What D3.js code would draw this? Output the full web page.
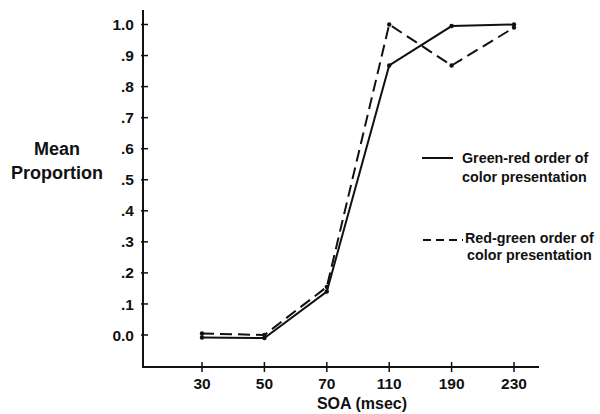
<!DOCTYPE html>
<html>
<head>
<meta charset="utf-8">
<script src="https://cdn.jsdelivr.net/npm/d3@7"></script>
<style>
body { margin: 0; background: #fff; }
text { font-family: "Liberation Sans", Arial, sans-serif; font-weight: bold; fill: #111; }
</style>
</head>
<body>
<div class="chart"></div>
<script>
(function() {
var width = 600, height = 414;

// data
var soa = ["30", "50", "70", "110", "190", "230"];
var greenRed = [-0.008, -0.01, 0.14, 0.868, 0.995, 1.0];
var redGreen = [0.005, 0.0, 0.155, 1.0, 0.868, 0.99];
var yTicks = [0, 0.1, 0.2, 0.3, 0.4, 0.5, 0.6, 0.7, 0.8, 0.9, 1.0];

var svg = d3.select(".chart").append("svg")
  .attr("width", width).attr("height", height);

var x = d3.scalePoint().domain(soa).range([202, 514]);
var y = d3.scaleLinear().domain([0, 1]).range([335, 24.5]);

var axisX = 143, axisY = 367;

// axes
svg.append("line")
  .attr("x1", axisX).attr("y1", 10).attr("x2", axisX).attr("y2", axisY)
  .style("stroke", "#111").style("stroke-width", 2);
svg.append("line")
  .attr("x1", axisX - 1).attr("y1", axisY).attr("x2", 539).attr("y2", axisY)
  .style("stroke", "#111").style("stroke-width", 2);

// y ticks
var yt = svg.selectAll(".yt").data(yTicks).enter().append("g")
  .attr("transform", function(d) { return "translate(0," + y(d) + ")"; });
yt.append("line")
  .attr("x1", axisX - 2).attr("x2", axisX + 5)
  .style("stroke", "#111").style("stroke-width", 1.5);
yt.append("text")
  .attr("x", 134).attr("dy", "0.36em")
  .attr("text-anchor", "end")
  .style("font-size", "15.5px")
  .text(function(d) {
    if (d === 0) return "0.0";
    if (d === 1) return "1.0";
    return d3.format(".1f")(d).replace(/^0/, "");
  });

// x ticks
var xt = svg.selectAll(".xt").data(soa).enter().append("g")
  .attr("transform", function(d) { return "translate(" + x(d) + ",0)"; });
xt.append("line")
  .attr("y1", axisY - 5).attr("y2", axisY + 5)
  .style("stroke", "#111").style("stroke-width", 1.5);
xt.append("text")
  .attr("y", 389).attr("text-anchor", "middle")
  .style("font-size", "15.5px")
  .text(function(d) { return d; });

// axis titles
svg.append("text").attr("x", 362).attr("y", 409)
  .attr("text-anchor", "middle").style("font-size", "16px")
  .text("SOA (msec)");
var yl = svg.append("text").attr("text-anchor", "middle").style("font-size", "18px");
yl.append("tspan").attr("x", 57).attr("y", 155).text("Mean");
yl.append("tspan").attr("x", 57).attr("y", 179).text("Proportion");

// lines
var line = d3.line()
  .x(function(d, i) { return x(soa[i]); })
  .y(function(d) { return y(d); });

svg.append("path").datum(redGreen)
  .attr("d", line)
  .style("fill", "none").style("stroke", "#111")
  .style("stroke-width", 2).style("stroke-dasharray", "12,6");
svg.append("path").datum(greenRed)
  .attr("d", line)
  .style("fill", "none").style("stroke", "#111")
  .style("stroke-width", 2);

[greenRed, redGreen].forEach(function(s) {
  svg.selectAll(null).data(s).enter().append("circle")
    .attr("cx", function(d, i) { return x(soa[i]); })
    .attr("cy", function(d) { return y(d); })
    .attr("r", 2.2)
    .style("fill", "#111");
});

// legend
svg.append("line")
  .attr("x1", 422).attr("x2", 453).attr("y1", 158).attr("y2", 158)
  .style("stroke", "#111").style("stroke-width", 2);
var l1 = svg.append("text").style("font-size", "14.3px");
l1.append("tspan").attr("x", 462).attr("y", 163).text("Green-red order of");
l1.append("tspan").attr("x", 462).attr("y", 182).text("color presentation");

svg.append("line")
  .attr("x1", 423).attr("x2", 463).attr("y1", 240).attr("y2", 240)
  .style("stroke", "#111").style("stroke-width", 2)
  .style("stroke-dasharray", "8,5");
var l2 = svg.append("text").style("font-size", "14.3px");
l2.append("tspan").attr("x", 465).attr("y", 243).text("Red-green order of");
l2.append("tspan").attr("x", 467).attr("y", 260).text("color presentation");
})();
</script>
</body>
</html>
